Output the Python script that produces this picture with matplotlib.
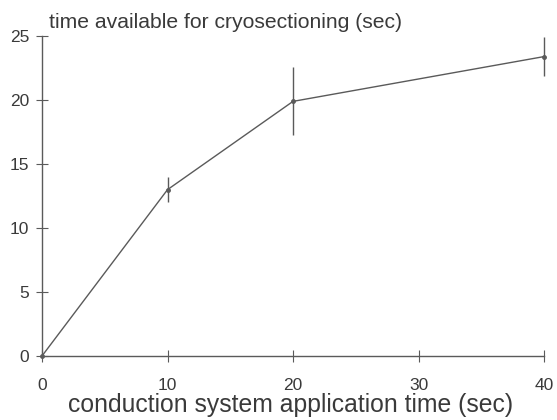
import matplotlib.pyplot as plt

plt.rcParams['font.family'] = ['Liberation Sans', 'DejaVu Sans']

app_time = [0, 10, 20, 40]
cryo_time = [0, 13.0, 19.9, 23.4]
cryo_err = [0, 1.0, 2.65, 1.5]
xticks = [0, 10, 20, 30, 40]
yticks = [0, 5, 10, 15, 20, 25]

ink = '#3a3a3a'

fig = plt.figure(figsize=(5.57, 4.2), dpi=100)
ax = fig.add_axes([0.0754, 0.1524, 0.9013, 0.7616])

ax.errorbar(app_time, cryo_time, yerr=cryo_err, color='#5a5a5a', lw=1.0,
            elinewidth=1.0, capsize=0, marker='o', ms=2.5, clip_on=False)

ax.set_xlim(0, 40)
ax.set_ylim(0, 25)
ax.set_xticks(xticks)
ax.set_yticks(yticks)
ax.spines['top'].set_visible(False)
ax.spines['right'].set_visible(False)
for s in ['left', 'bottom']:
    ax.spines[s].set_color('#5a5a5a')
    ax.spines[s].set_linewidth(1.0)
ax.tick_params(direction='inout', length=8, width=0.8, colors='#5a5a5a',
               labelcolor=ink, labelsize=12.5)
ax.tick_params(axis='x', pad=12)
ax.tick_params(axis='y', pad=5)

fig.text(68 / 557, 1 - 412 / 420, 'conduction system application time (sec)',
         fontsize=17.8, color=ink, va='baseline', ha='left')
fig.text(49 / 557, 1 - 28 / 420, 'time available for cryosectioning (sec)',
         fontsize=15.2, color=ink, va='baseline', ha='left')

fig.savefig('out.png', dpi=100)
